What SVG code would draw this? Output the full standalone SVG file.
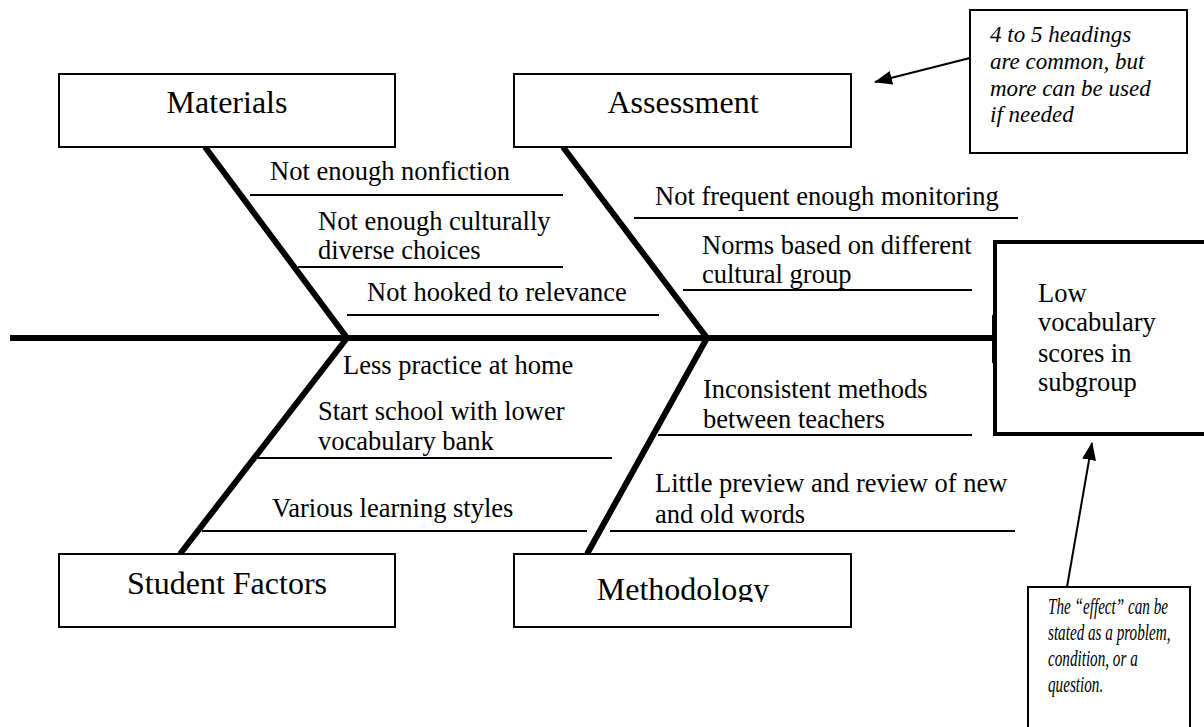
<svg xmlns="http://www.w3.org/2000/svg" width="1204" height="727" viewBox="0 0 1204 727">
<defs>
<style>
.box{fill:#fff;stroke:#000;stroke-width:2}
.bone{stroke:#000;stroke-width:6;stroke-linecap:butt;fill:none}
.cause{stroke:#000;stroke-width:2}
.hdr{font-family:"Liberation Serif","Times New Roman",serif;font-size:32px;fill:#000;text-anchor:middle}
.t{font-family:"Liberation Serif","Times New Roman",serif;font-size:26.5px;fill:#000}
.note{font-family:"Liberation Serif","Times New Roman",serif;font-size:23px;font-style:italic;fill:#000}
.arr{stroke:#000;stroke-width:2;fill:none}
</style>
<marker id="ah" markerUnits="userSpaceOnUse" markerWidth="18" markerHeight="14" refX="17" refY="7" orient="auto">
<path d="M0,0 L18,7 L0,14 Z" fill="#000"/>
</marker>
<clipPath id="mclip"><rect x="514" y="554" width="337" height="48"/></clipPath>
</defs>
<rect width="1204" height="727" fill="#fff"/>
<g id="connectors">
<line class="bone" x1="10" y1="338" x2="993" y2="338"/>
<rect x="992" y="315" width="4" height="48" fill="#000"/>
<polyline class="bone" points="205,147 347,338 180,554"/>
<polyline class="bone" points="563,147 707,338 587,554"/>
<line class="cause" x1="250" y1="195" x2="563" y2="195"/>
<line class="cause" x1="298" y1="267" x2="563" y2="267"/>
<line class="cause" x1="347" y1="315" x2="659" y2="315"/>
<line class="cause" x1="634" y1="218" x2="1018" y2="218"/>
<line class="cause" x1="683" y1="290" x2="972" y2="290"/>
<line class="cause" x1="257" y1="458" x2="612" y2="458"/>
<line class="cause" x1="202" y1="531" x2="587" y2="531"/>
<line class="cause" x1="658" y1="435" x2="972" y2="435"/>
<line class="cause" x1="610" y1="531" x2="1015" y2="531"/>
<line class="arr" x1="970" y1="58" x2="875" y2="82" marker-end="url(#ah)"/>
<line class="arr" x1="1067" y1="587" x2="1092" y2="443" marker-end="url(#ah)"/>
</g>
<g id="materials">
<rect class="box" x="59" y="74" width="336" height="73"/>
<text class="hdr" x="227" y="113">Materials</text>
</g>
<g id="assessment">
<rect class="box" x="514" y="74" width="337" height="73"/>
<text class="hdr" x="683" y="113">Assessment</text>
</g>
<g id="student-factors">
<rect class="box" x="59" y="554" width="336" height="73"/>
<text class="hdr" x="227" y="594">Student Factors</text>
</g>
<g id="methodology">
<rect class="box" x="514" y="554" width="337" height="73"/>
<text class="hdr" x="683" y="600" clip-path="url(#mclip)">Methodology</text>
</g>
<g id="effect">
<rect x="995" y="242" width="260" height="192" fill="#fff" stroke="#000" stroke-width="4"/>
<text class="t" x="1038" y="302">Low</text>
<text class="t" x="1038" y="331">vocabulary</text>
<text class="t" x="1038" y="362">scores in</text>
<text class="t" x="1038" y="391">subgroup</text>
</g>
<g id="causes">
<text class="t" x="270" y="180">Not enough nonfiction</text>
<text class="t" x="318" y="230">Not enough culturally</text>
<text class="t" x="318" y="259">diverse choices</text>
<text class="t" x="367" y="301">Not hooked to relevance</text>
<text class="t" x="655" y="205">Not frequent enough monitoring</text>
<text class="t" x="702" y="254">Norms based on different</text>
<text class="t" x="702" y="283">cultural group</text>
<text class="t" x="343" y="374">Less practice at home</text>
<text class="t" x="318" y="420">Start school with lower</text>
<text class="t" x="318" y="450">vocabulary bank</text>
<text class="t" x="272" y="517">Various learning styles</text>
<text class="t" x="703" y="398">Inconsistent methods</text>
<text class="t" x="703" y="428">between teachers</text>
<text class="t" x="655" y="492">Little preview and review of new</text>
<text class="t" x="655" y="523">and old words</text>
</g>
<g id="note-headings">
<rect class="box" x="970" y="10" width="217" height="143"/>
<text class="note" x="990" y="42">4 to 5 headings</text>
<text class="note" x="990" y="69">are common, but</text>
<text class="note" x="990" y="96">more can be used</text>
<text class="note" x="990" y="122">if needed</text>
</g>
<g id="note-effect">
<rect class="box" x="1028" y="587" width="162" height="160"/>
<g transform="translate(1048 0) scale(0.66 1)">
<text class="note" x="0" y="614">The “effect” can be</text>
<text class="note" x="0" y="640">stated as a problem,</text>
<text class="note" x="0" y="666">condition, or a</text>
<text class="note" x="0" y="692">question.</text>
</g>
</g>
</svg>
